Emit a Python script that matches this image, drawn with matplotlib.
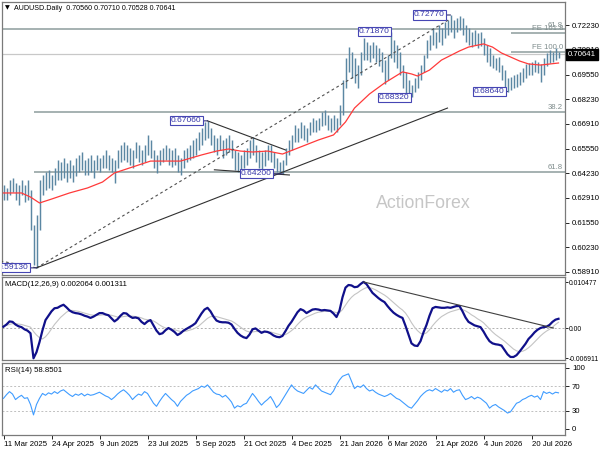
import matplotlib
matplotlib.use('Agg')
import matplotlib.pyplot as plt
import numpy as np
from matplotlib.transforms import blended_transform_factory

plt.rcParams['font.family'] = ['Liberation Sans', 'DejaVu Sans']

# ---------------- data ----------------
PIP = 1e-4
header = "AUDUSD.Daily  0.70560 0.70710 0.70528 0.70641"
last_close = 0.70641

# bar highs / lows (units of 0.0001)
high_pips = [
    6360, 6344, 6387, 6398, 6371, 6360, 6387, 6360, 6387, 6333,
    6144, 6198, 6387, 6414, 6430, 6441, 6414, 6452, 6495, 6484,
    6506, 6479, 6495, 6468, 6506, 6522, 6538, 6495, 6506, 6522,
    6495, 6522, 6506, 6522, 6549, 6522, 6506, 6495, 6549, 6576,
    6592, 6576, 6560, 6549, 6592, 6576, 6549, 6576, 6630, 6603,
    6549, 6522, 6549, 6560, 6576, 6560, 6549, 6560, 6522, 6506,
    6549, 6560, 6576, 6603, 6614, 6646, 6667, 6700, 6706, 6667,
    6630, 6614, 6630, 6603, 6614, 6630, 6603, 6549, 6538, 6522,
    6549, 6560, 6603, 6619, 6576, 6549, 6538, 6549, 6576, 6576,
    6538, 6506, 6484, 6495, 6560, 6603, 6630, 6684, 6667, 6700,
    6684, 6667, 6700, 6721, 6711, 6721, 6754, 6765, 6738, 6721,
    6738, 6721, 6791, 6926, 7045, 7104, 7077, 7045, 7007, 7077,
    7153, 7131, 7115, 7131, 7115, 7099, 7077, 7034, 7061, 7187,
    7142, 7115, 7077, 7007, 6969, 6926, 6899, 6937, 6969, 7007,
    7061, 7142, 7169, 7207, 7185, 7223, 7207, 7239, 7250, 7277,
    7250, 7261, 7270, 7261, 7223, 7207, 7185, 7196, 7180, 7185,
    7153, 7115, 7099, 7061, 7045, 7050, 7007, 6980, 6937, 6943,
    6953, 6959, 6969, 6991, 7013, 7018, 7023, 7034, 7023, 7013,
    7045, 7072, 7088, 7077, 7099, 7080,
]
low_pips = [
    6279, 6279, 6306, 6322, 6279, 6252, 6306, 6268, 6279, 6117,
    5928, 5913, 6117, 6306, 6333, 6344, 6333, 6360, 6387, 6387,
    6398, 6376, 6398, 6376, 6409, 6430, 6441, 6414, 6414, 6430,
    6398, 6441, 6430, 6452, 6452, 6441, 6430, 6371, 6452, 6484,
    6495, 6484, 6468, 6452, 6506, 6484, 6468, 6484, 6522, 6506,
    6452, 6425, 6468, 6484, 6495, 6468, 6457, 6468, 6430, 6414,
    6452, 6484, 6495, 6506, 6522, 6549, 6576, 6603, 6614, 6576,
    6538, 6522, 6549, 6506, 6522, 6538, 6506, 6441, 6430, 6430,
    6452, 6468, 6506, 6522, 6484, 6452, 6441, 6463, 6495, 6484,
    6452, 6430, 6425, 6420, 6468, 6522, 6549, 6592, 6592, 6614,
    6603, 6592, 6630, 6646, 6646, 6657, 6678, 6684, 6657, 6646,
    6657, 6646, 6684, 6738, 6883, 6969, 6937, 6910, 6883, 6953,
    7034, 7034, 7023, 7045, 7023, 7002, 6969, 6905, 6926, 7045,
    7023, 6991, 6953, 6883, 6856, 6840, 6832, 6862, 6883, 6926,
    6969, 7045, 7088, 7115, 7099, 7131, 7115, 7153, 7169, 7185,
    7153, 7185, 7196, 7169, 7131, 7115, 7104, 7115, 7099, 7110,
    7061, 7023, 7002, 6991, 6980, 6969, 6926, 6872, 6864, 6872,
    6883, 6889, 6899, 6915, 6937, 6953, 6953, 6969, 6964, 6915,
    6953, 7002, 7018, 7023, 7034, 7045,
]

# moving average read at selected bars
ma_idx = [0, 6, 9, 12, 16, 22, 28, 33, 37, 43, 49, 54, 59, 66, 71, 75, 79, 83, 88, 93,
          99, 105, 110, 114, 117, 122, 127, 133, 136, 138, 142, 146, 152, 155, 160, 163,
          166, 172, 175, 179, 185]
ma_pips = [6317, 6317, 6295, 6263, 6284, 6317, 6344, 6376, 6425, 6457, 6489, 6489, 6489,
           6522, 6543, 6554, 6543, 6538, 6543, 6527, 6565, 6603, 6630, 6700, 6775, 6851,
           6910, 6970, 6959, 6948, 6980, 7034, 7083, 7104, 7121, 7104, 7072, 7029, 7013,
           7007, 7018]

# MACD main / signal (units of 0.0001)
macd_main = [
    3, 8, 15, 14, 8, 4, 2, -3, -6, -12,
    -69, -55, -32, -5, 18, 28, 38, 45, 46, 50,
    53, 47, 40, 36, 34, 33, 31, 28, 26, 23,
    26, 30, 34, 34, 31, 29, 22, 15, 20, 28,
    34, 33, 27, 23, 24, 22, 14, 9, 15, 18,
    6, -6, -14, -12, -5, 0, -4, -9, -16, -12,
    -6, -2, 2, 6, 11, 22, 33, 42, 46, 38,
    26, 17, 14, 13, 13, 12, 8, -2, -11, -17,
    -21, -23, -15, -3, -1, -6, -11, -8, -9, -12,
    -17, -20, -21, -18, -7, 5, 14, 25, 36, 43,
    40, 34, 38, 42, 43, 42, 40, 41, 40, 39,
    33, 25, 40, 70, 92, 98, 97, 93, 94, 100,
    105, 100, 90, 80, 74, 68, 63, 59, 50, 42,
    35, 30, 26, 23, 5, -15, -35, -40, -41, -30,
    -10, 7, 28, 45, 48, 47, 46, 46, 47, 46,
    48, 50, 50, 38, 24, 14, 10, 6, 4, 2,
    -8, -20, -30, -35, -37, -38, -40, -50, -60, -66,
    -66, -62, -54, -45, -36, -25, -18, -10, -4, 0,
    2, 3, 7, 14, 19, 21,
]
macd_signal = [
    5, 6, 8, 10, 10, 9, 8, 6, 4, 2,
    -8, -16, -22, -25, -20, -12, -2, 8, 16, 24,
    30, 36, 40, 40, 39, 38, 36, 34, 32, 30,
    29, 29, 29, 30, 30, 30, 29, 27, 25, 25,
    26, 27, 27, 27, 26, 25, 23, 20, 19, 18,
    16, 12, 7, 3, 0, -1, -2, -4, -6, -8,
    -8, -7, -5, -3, 0, 4, 10, 16, 22, 26,
    27, 26, 24, 22, 20, 18, 16, 12, 7, 2,
    -3, -7, -9, -9, -8, -8, -8, -8, -9, -9,
    -11, -13, -15, -16, -15, -11, -6, 0, 8, 15,
    21, 25, 28, 31, 34, 36, 37, 38, 38, 38,
    37, 35, 35, 42, 52, 62, 70, 76, 80, 85,
    89, 92, 92, 90, 87, 83, 79, 75, 70, 64,
    58, 52, 46, 41, 34, 24, 12, 2, -6, -12,
    -14, -11, -4, 5, 13, 20, 26, 30, 34, 37,
    39, 41, 43, 42, 39, 35, 30, 26, 21, 17,
    12, 5, -2, -9, -15, -20, -25, -30, -36, -42,
    -48, -52, -54, -53, -50, -45, -39, -32, -25, -18,
    -12, -7, -3, 2, 8, 13,
]
rsi = [
    50, 56, 61, 57, 48, 52, 55, 50, 51, 40,
    23, 40, 50, 58, 55, 59, 57, 61, 58, 62,
    64, 60, 56, 53, 57, 55, 58, 54, 57, 55,
    56, 58, 60, 57, 54, 52, 48, 52, 57, 61,
    64, 60, 55, 48, 53, 57, 55, 61, 58, 50,
    42, 37, 45, 52, 58, 53, 48, 44, 37, 45,
    50, 55, 58, 62, 64, 66, 70, 68, 72, 66,
    60, 57, 56, 52, 55, 50, 44, 34, 38, 36,
    40, 42, 50, 58, 52, 45, 39, 44, 48, 53,
    45, 35, 40, 48, 56, 64, 72, 66, 62, 60,
    58, 63, 68, 65, 72, 67, 62, 60, 58, 56,
    62, 72, 80, 86, 88, 90, 78, 66, 70, 68,
    72, 66, 62, 64, 60, 57, 55, 53, 55, 58,
    54, 50, 48, 44, 40, 36, 34, 40, 46, 53,
    58, 62, 64, 62, 66, 63, 60, 64, 62, 66,
    60, 63, 64, 55, 48, 50, 53, 49, 52, 50,
    46, 42, 34, 38, 40, 36, 33, 30, 26, 28,
    35, 42, 44, 48, 50, 53, 55, 52, 54, 48,
    61, 58, 60, 57, 60, 59,
]
macd_text = "MACD(12,26,9) 0.002064 0.001311"
rsi_text = "RSI(14) 58.8501"

# axis tick labels
price_ticks = [0.72230, 0.70910, 0.69550, 0.68230, 0.66910, 0.65550,
               0.64230, 0.62910, 0.61550, 0.60230, 0.58910]
macd_ticks = [0.010477, 0.0, -0.006911]
macd_tick_labels = ["0.010477", "0.00", "-0.006911"]
rsi_ticks = [100, 70, 30, 0]
date_idx = [0, 16, 32, 48, 64, 80, 96, 112, 128, 144, 160, 176]
date_labels = ["11 Mar 2025", "24 Apr 2025", "9 Jun 2025", "23 Jul 2025",
               "5 Sep 2025", "21 Oct 2025", "4 Dec 2025", "21 Jan 2026",
               "6 Mar 2026", "21 Apr 2026", "4 Jun 2026", "20 Jul 2026"]

# swing labels
swing_text = ["0.67060", "0.64200", "0.59130", "0.71870", "0.72770", "0.68320", "0.68640"]
swing_idx = [68, 93, 11, 129, 149, 136, 168]
swing_price = [0.6706, 0.6420, 0.5913, 0.7187, 0.7277, 0.6832, 0.6864]

# Fibonacci levels
fib_names = ["61.8", "FE 161.8", "FE 100.0", "38.2", "61.8"]
fib_price = [0.7201, 0.7180, 0.7079, 0.6755, 0.6431]
fib_start = [-1, 169, 169, 10.3, 10.3]

# trend lines (bar index, price)
tl_dotted = [((-1, 0.5950), (11, 0.5913)), ((11, 0.5913), (148.3, 0.7250))]
tl_solid = [((11, 0.5913), (148, 0.6775)),
            ((68, 0.6706), (94, 0.6549)),
            ((70.3, 0.6442), (95.3, 0.6414))]
macd_tl = ((120, 0.0105), (183.3, 0.0))

# ---------------- figure ----------------
W, H = 600, 450
fig = plt.figure(figsize=(6, 4.5), dpi=100)
fig.patch.set_facecolor('white')


def ax_px(x0, y0, x1, y1):
    return fig.add_axes([x0 / W, 1 - y1 / H, (x1 - x0) / W, (y1 - y0) / H])


ax = ax_px(2, 2, 565, 275)
axm = ax_px(2, 277, 565, 360)
axr = ax_px(2, 363, 565, 435)

n = len(high_pips)
idx = np.arange(n)
xlim = (-0.5, -0.5 + 563 / 3)
FS = 5.6
edge = '#7a7a7a'

for a in (ax, axm, axr):
    a.set_xlim(*xlim)
    for s in a.spines.values():
        s.set_color(edge)
        s.set_linewidth(0.9)
    a.yaxis.tick_right()
    a.tick_params(axis='y', direction='out', length=3, width=0.6, labelsize=FS,
                  pad=2, colors='black')
    a.tick_params(axis='x', bottom=False, labelbottom=False)

# ----- main panel -----
ax.set_ylim(0.58745, 0.73471)
hi = np.array(high_pips) * PIP
lo = np.array(low_pips) * PIP
ax.vlines(idx, lo, hi, colors='#5b87a3', lw=1.05, zorder=3)
ax.plot(ma_idx, np.array(ma_pips) * PIP, color='#ff3a3a', lw=0.9, zorder=4)

ax.set_yticks(price_ticks)
ax.set_yticklabels([f"{v:.5f}" for v in price_ticks])

# bid line
ax.axhline(last_close, color='#c8c8c8', lw=0.9, zorder=1)

# fib lines
for name, p, x0 in zip(fib_names, fib_price, fib_start):
    ax.plot([x0, xlim[1]], [p, p], color='#8d9d9d', lw=1.1, zorder=2,
            solid_capstyle='butt')
    ax.annotate(name, xy=(xlim[1], p), xytext=(-2, 0.5), textcoords='offset pixels',
                ha='right', va='bottom', fontsize=FS, color='#7f8c8c', zorder=5)

# trend lines
for (p0, p1) in tl_dotted:
    ax.plot([p0[0], p1[0]], [p0[1], p1[1]], color='#505050', lw=0.8,
            ls=(0, (2.5, 2.5)), zorder=5)
for (p0, p1) in tl_solid:
    ax.plot([p0[0], p1[0]], [p0[1], p1[1]], color='#303030', lw=0.8, zorder=5)

# swing labels
offsets = [-6, -11, -8, -1, -6, -2, -3]
for t, i, p, dx in zip(swing_text, swing_idx, swing_price, offsets):
    ann = ax.annotate(t, xy=(i, p), xytext=(dx, 0), textcoords='offset pixels',
                      ha='right', va='center', fontsize=6.1, color='#3535a8',
                      bbox=dict(boxstyle='square,pad=0.12', fc='white', ec='#4646b4', lw=0.8),
                      arrowprops=dict(arrowstyle='-', color='#303070', lw=0.8,
                                      shrinkA=0, shrinkB=0),
                      zorder=6)
    ann.set_clip_box(ax.bbox)
    ann.set_clip_on(True)

# watermark
ax.text(0.748, 0.262, "ActionForex", transform=ax.transAxes, ha='center', va='center',
        fontsize=12.8, color='#c6c6c6', zorder=2)

# current price box
trans = blended_transform_factory(ax.transAxes, ax.transData)
ax.annotate(f"{last_close:.5f}", xy=(1.0, last_close), xycoords=trans,
            xytext=(3, 0), textcoords='offset pixels', ha='left', va='center',
            fontsize=FS, color='white', annotation_clip=False, zorder=10,
            bbox=dict(boxstyle='square,pad=0.2', fc='black', ec='black'))

# header
fig.text(5 / W, 1 - 8 / H, "\u25BC", fontsize=4.5, va='center', ha='left', color='black',
         family=['DejaVu Sans'])
fig.text(14 / W, 1 - 8 / H, header, fontsize=5.1, va='center', ha='left', color='black')

# ----- MACD panel -----
axm.set_ylim(-0.00729, 0.01162)
axm.axhline(0, color='#b0b0b0', lw=0.7, ls=(0, (2, 2)), zorder=1)
axm.plot(idx, np.array(macd_signal) * PIP, color='#c4c4c4', lw=0.8, zorder=2)
axm.plot(idx, np.array(macd_main) * PIP, color='#10108a', lw=1.6, zorder=3)
axm.plot([macd_tl[0][0], macd_tl[1][0]], [macd_tl[0][1], macd_tl[1][1]],
         color='#404040', lw=0.8, zorder=4)
axm.set_yticks(macd_ticks)
axm.set_yticklabels(macd_tick_labels)
axm.tick_params(axis='y', labelsize=4.9, pad=1, length=2)
axm.text(0.006, 0.915, macd_text, transform=axm.transAxes, fontsize=FS,
         ha='left', va='center', color='black')

# ----- RSI panel -----
axr.set_ylim(-9.8, 107.7)
for lvl in (70, 30):
    axr.axhline(lvl, color='#c0c0c0', lw=0.7, ls=(0, (2, 2)), zorder=1)
axr.plot(idx, rsi, color='#3f9cff', lw=0.8, zorder=3)
axr.set_yticks(rsi_ticks)
axr.set_yticklabels([str(v) for v in rsi_ticks])
axr.text(0.006, 0.9, rsi_text, transform=axr.transAxes, fontsize=FS,
         ha='left', va='center', color='black')

axr.tick_params(axis='x', bottom=True, labelbottom=True, direction='out', length=3,
                width=0.6, labelsize=FS, pad=1.5, colors='black')
axr.set_xticks(date_idx)
axr.set_xticklabels(date_labels)
for lbl in axr.get_xticklabels():
    lbl.set_horizontalalignment('left')

fig.savefig('out.png', dpi=100)
